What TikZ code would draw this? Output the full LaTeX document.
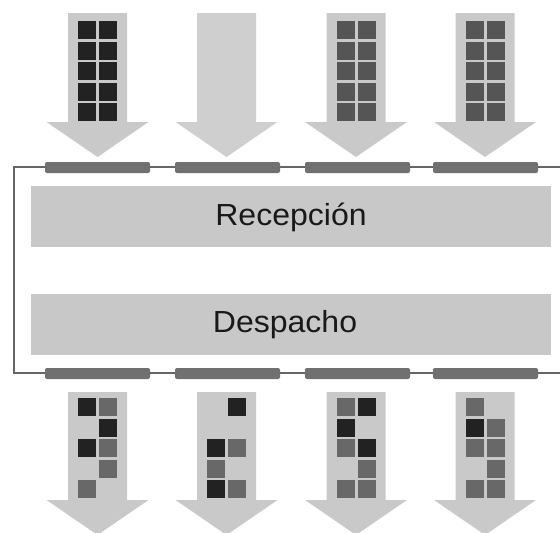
\documentclass[tikz,border=0pt]{standalone}
\usepackage{fontspec}
\setmainfont{Liberation Sans}
\definecolor{arrowfill}{HTML}{C9C9C9}
\definecolor{arrowfilltwo}{HTML}{CFCFCF}
\definecolor{boxfill}{HTML}{C8C8C8}
\definecolor{walldark}{HTML}{666666}
\definecolor{bargray}{HTML}{707070}
\definecolor{celldark}{HTML}{222222}
\definecolor{cellmid}{HTML}{686868}
\definecolor{celltop}{HTML}{555555}
\tikzset{
  wall/.style={draw=walldark, line width=2pt},
  dockbar/.style={fill=bargray, rounded corners=2pt},
  areabox/.style={fill=boxfill, draw=none, minimum width=520pt, minimum height=61pt, inner sep=0pt},
  areatext/.style={font=\fontsize{30.5}{33}\selectfont, text=black!90, anchor=base, inner sep=0pt},
}
\newcommand\dropArrow[5]{% cx, top, base, tip, colour
  \fill[#5] (#1-29.5,#2) -- (#1+29.5,#2) -- (#1+29.5,#3) -- (#1+51,#3) -- (#1,#4)
    -- (#1-51,#3) -- (#1-29.5,#3) -- cycle;}
\newcommand\gridCell[4]{% cx, col(1/2), rowcentre y, colour
  \pgfmathsetmacro\cxx{#1+(#2-1.5)*21}
  \fill[#4] (\cxx-9,#3-9) rectangle (\cxx+9,#3+9);}
\begin{document}
\begin{tikzpicture}[x=1pt,y=-1pt]
\useasboundingbox (0,0) rectangle (560,533);
\clip (0,0) rectangle (560,533);

% top arrows
\dropArrow{97.5}{13}{122}{157}{arrowfill}
\dropArrow{226.5}{13}{122}{157}{arrowfilltwo}
\dropArrow{356}{13}{122}{157}{arrowfill}
\dropArrow{485}{13}{122}{157}{arrowfill}
% top grids
\foreach \r in {0,...,4}{
  \foreach \c in {1,2}{
    \gridCell{97.5}{\c}{30+20.5*\r}{celldark}
    \gridCell{356}{\c}{30+20.5*\r}{celltop}
    \gridCell{485}{\c}{30+20.5*\r}{celltop}
  }
}

% building wall
\draw[wall] (560,167) -- (14,167) -- (14,373) -- (560,373);
\foreach \a/\b in {45/150,175/280,305/410,433/538}{
  \fill[dockbar] (\a,162) rectangle (\b,173);
  \fill[dockbar] (\a,368) rectangle (\b,379);
}

% areas
\node[areabox] (rec) at (291,216) {};
\node[areabox] (desp) at (291,324) {};
\node[areatext] (rectext) at (291,225) {\scalebox{1.05}[1]{Recepción}};
\node[areatext] (desptext) at (285,332) {\scalebox{1.05}[1]{Despacho}};

% bottom arrows
\dropArrow{97.5}{392}{500}{535}{arrowfill}
\dropArrow{226.5}{392}{500}{535}{arrowfill}
\dropArrow{356}{392}{500}{535}{arrowfill}
\dropArrow{485}{392}{500}{535}{arrowfill}

% bottom mixed cells: cx / col / row / colour
\foreach \x/\c/\r/\k in {
  97.5/1/0/celldark, 97.5/2/0/cellmid, 97.5/2/1/celldark, 97.5/1/2/celldark,
  97.5/2/2/cellmid, 97.5/2/3/cellmid, 97.5/1/4/cellmid,
  226.5/2/0/celldark, 226.5/1/2/celldark, 226.5/2/2/cellmid, 226.5/1/3/cellmid,
  226.5/1/4/celldark, 226.5/2/4/cellmid,
  356/1/0/cellmid, 356/2/0/celldark, 356/1/1/celldark, 356/1/2/cellmid,
  356/2/2/celldark, 356/2/3/cellmid, 356/1/4/cellmid, 356/2/4/cellmid,
  485/1/0/cellmid, 485/1/1/celldark, 485/2/1/cellmid, 485/1/2/cellmid,
  485/2/2/cellmid, 485/2/3/cellmid, 485/1/4/cellmid, 485/2/4/cellmid}{
  \gridCell{\x}{\c}{407+20.5*\r}{\k}
}
\end{tikzpicture}
\end{document}
